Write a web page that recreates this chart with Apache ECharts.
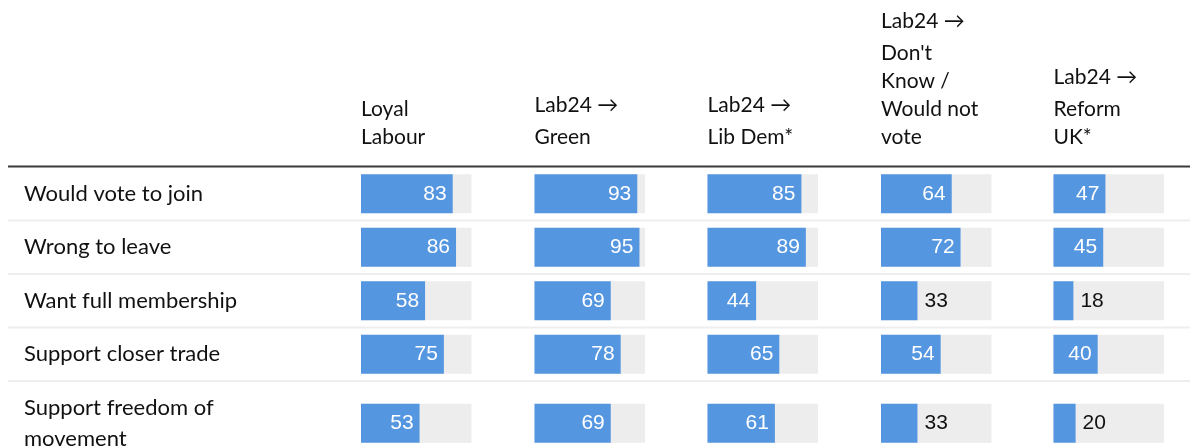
<!DOCTYPE html>
<html>
<head>
<meta charset="utf-8">
<script src="https://cdn.jsdelivr.net/npm/echarts@6/dist/echarts.min.js"></script>
<style>html,body{margin:0;padding:0;background:#fff;}#chart{width:1190px;height:448px;}</style>
</head>
<body>
<div id="chart"></div>
<script>
// ---- data ----
const rowLabels = ['Would vote to join', 'Wrong to leave', 'Want full membership', 'Support closer trade', 'Support freedom of\nmovement'];
const columnLabels = ['Loyal\nLabour', 'Lab24 →\nGreen', 'Lab24 →\nLib Dem*', "Lab24 →\nDon't\nKnow /\nWould not\nvote", 'Lab24 →\nReform\nUK*'];
const loyalLabour = [83, 86, 58, 75, 53];
const lab24Green = [93, 95, 69, 78, 69];
const lab24LibDem = [85, 89, 44, 65, 61];
const lab24DontKnow = [64, 72, 33, 54, 33];
const lab24Reform = [47, 45, 18, 40, 20];

// ---- layout ----
const columnsData = [loyalLabour, lab24Green, lab24LibDem, lab24DontKnow, lab24Reform];
const colLefts = [361, 534.5, 707.5, 881, 1053.5];
const colWidth = 110.5;
const rowTop = 167, rowPitch = 53.5;
const lastTop = 398.5, lastHeight = 49.5;
const BLUE = '#5596e1', TRACK = '#ededed';
const TEXT_FONT = 'Lato, "Open Sans", sans-serif';
const NUM_FONT = '"Liberation Sans", Arial, sans-serif';

function headerRich(label) {
  return label.split('\n').map(l => (l.indexOf('→') >= 0 ? '{arrow|' : '{n|') + l + '}').join('\n');
}

const grids = [], xAxes = [], yAxes = [], series = [];
function itemFor(v) {
  const outside = v < 36;
  return {
    value: v,
    label: {
      position: outside ? 'right' : 'insideRight',
      distance: outside ? 7 : 6,
      color: outside ? '#111' : '#fff'
    }
  };
}
columnsData.forEach((vals, c) => {
  [[0, 4], [4, 5]].forEach(([s, e], g) => {
    const idx = grids.length;
    grids.push({
      left: colLefts[c], width: colWidth,
      top: g === 0 ? rowTop : lastTop,
      height: g === 0 ? 4 * rowPitch : lastHeight,
      containLabel: false,
      outerBoundsMode: 'none'
    });
    xAxes.push({
      gridIndex: idx, type: 'value', min: 0, max: 100, position: 'top',
      axisLine: { show: false }, axisTick: { show: false }, axisLabel: { show: false }, splitLine: { show: false },
      name: g === 0 ? headerRich(columnLabels[c]) : '',
      nameLocation: 'start', nameGap: 0,
      nameTextStyle: {
        align: 'left', verticalAlign: 'bottom', fontFamily: TEXT_FONT, fontSize: 21,
        lineHeight: 28, color: '#111', padding: [0, 0, 16, 0],
        rich: {
          n: { fontFamily: TEXT_FONT, fontSize: 21, lineHeight: 28, color: '#111' },
          arrow: { fontFamily: TEXT_FONT, fontSize: 21, lineHeight: 36, color: '#111' }
        }
      }
    });
    yAxes.push({
      gridIndex: idx, type: 'category', inverse: true, data: rowLabels.slice(s, e),
      axisLine: { show: false }, axisTick: { show: false }, splitLine: { show: false },
      axisLabel: {
        show: c === 0, align: 'left', margin: colLefts[0] - 24,
        fontFamily: TEXT_FONT, fontSize: 22, lineHeight: 31, color: '#111'
      }
    });
    series.push({
      type: 'bar', xAxisIndex: idx, yAxisIndex: idx,
      data: vals.slice(s, e).map(itemFor),
      barWidth: 39,
      itemStyle: { color: BLUE },
      showBackground: true,
      backgroundStyle: { color: TRACK },
      label: { show: true, formatter: '{c}', fontFamily: NUM_FONT, fontSize: 21 },
      silent: true, animation: false
    });
  });
});

const graphics = [{ type: 'rect', shape: { x: 8, y: rowTop - 1.5, width: 1182, height: 2 }, style: { fill: '#3a3a3a' } }];
for (let i = 1; i <= 4; i++) {
  graphics.push({ type: 'rect', shape: { x: 8, y: rowTop + i * rowPitch - 1, width: 1182, height: 2 }, style: { fill: '#eeeeee' } });
}

const chart = echarts.init(document.getElementById('chart'), null, { renderer: 'canvas' });
chart.setOption({
  animation: false,
  backgroundColor: '#fff',
  grid: grids, xAxis: xAxes, yAxis: yAxes, series: series,
  graphic: graphics
});
</script>
</body>
</html>
